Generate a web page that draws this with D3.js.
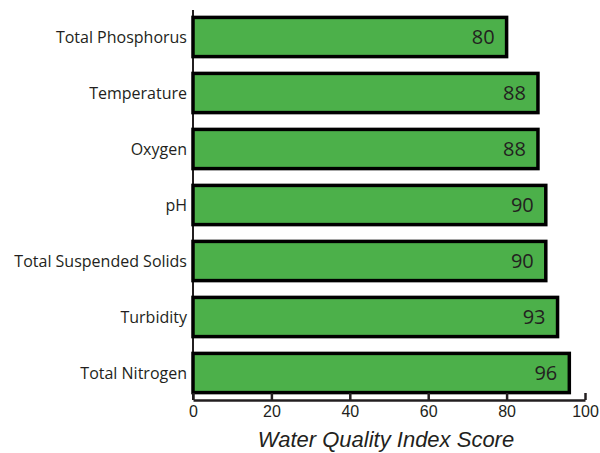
<!DOCTYPE html>
<html>
<head>
<meta charset="utf-8">
<script src="https://cdn.jsdelivr.net/npm/d3@7"></script>
<style>
  body { margin: 0; background: #fff; }
  text { font-family: "Open Sans", "DejaVu Sans", sans-serif; fill: #231f20; }
</style>
</head>
<body>
<div id="chart"></div>
<script>
var categories = ['Total Phosphorus', 'Temperature', 'Oxygen', 'pH', 'Total Suspended Solids', 'Turbidity', 'Total Nitrogen'];
var scores = [80, 88, 88, 90, 90, 93, 96];
var xTicks = [0, 20, 40, 60, 80, 100];
var xTitle = 'Water Quality Index Score';

var width = 600,
	height = 453;

var x0 = 193, x1 = 585, axisY = 400;

var svg = d3.select('#chart').append('svg')
	.attr('width', width)
	.attr('height', height);

var xScale = d3.scaleLinear().domain([0, 100]).range([x0, x1]);
var yScale = d3.scaleBand().domain(categories).range([9, 401])
	.paddingInner(0.3).paddingOuter(0.15);

// y axis line
svg.append('line')
	.attr('x1', x0).attr('x2', x0)
	.attr('y1', 10).attr('y2', axisY)
	.attr('stroke', '#231f20').attr('stroke-width', 2);

// bars
var data = categories.map(function(c, i) { return {cat: c, v: scores[i]}; });

svg.selectAll('rect.bar').data(data).enter().append('rect')
	.attr('class', 'bar')
	.attr('x', xScale(0))
	.attr('y', (d) => yScale(d.cat))
	.attr('width', (d) => xScale(d.v) - xScale(0))
	.attr('height', yScale.bandwidth())
	.attr('fill', '#4cb04a')
	.attr('stroke', '#000')
	.attr('stroke-width', 3.5);

svg.selectAll('text.val').data(data).enter().append('text')
	.attr('class', 'val')
	.attr('x', (d) => xScale(d.v) - 12)
	.attr('y', (d) => yScale(d.cat) + yScale.bandwidth() / 2)
	.attr('dy', '0.36em')
	.attr('text-anchor', 'end')
	.style('font-size', '20px')
	.text((d) => d.v);

// category labels
svg.selectAll('text.cat').data(categories).enter().append('text')
	.attr('class', 'cat')
	.attr('x', 187)
	.attr('y', (d) => yScale(d) + yScale.bandwidth() / 2)
	.attr('dy', '0.35em')
	.attr('text-anchor', 'end')
	.style('font-size', '16px')
	.text((d) => d);

// x axis, ticks pointing up
var xAxis = d3.axisBottom(xScale).tickValues(xTicks).tickSize(-7).tickSizeOuter(0).tickPadding(6);
var gx = svg.append('g')
	.attr('transform', 'translate(0,' + axisY + ')')
	.call(xAxis);
gx.select('.domain').attr('stroke', '#231f20').attr('stroke-width', 2.5);
gx.selectAll('.tick line').attr('stroke', '#231f20').attr('stroke-width', 2.5);
gx.selectAll('.tick text')
	.style('font-size', '16px')
	.style('font-family', '"Liberation Sans", sans-serif')
	.attr('fill', '#231f20');

svg.append('text')
	.attr('x', (x0 + x1) / 2 - 3)
	.attr('y', 447)
	.attr('text-anchor', 'middle')
	.style('font-family', '"Liberation Sans", sans-serif')
	.style('font-size', '22px')
	.style('font-style', 'italic')
	.text(xTitle);
</script>
</body>
</html>
